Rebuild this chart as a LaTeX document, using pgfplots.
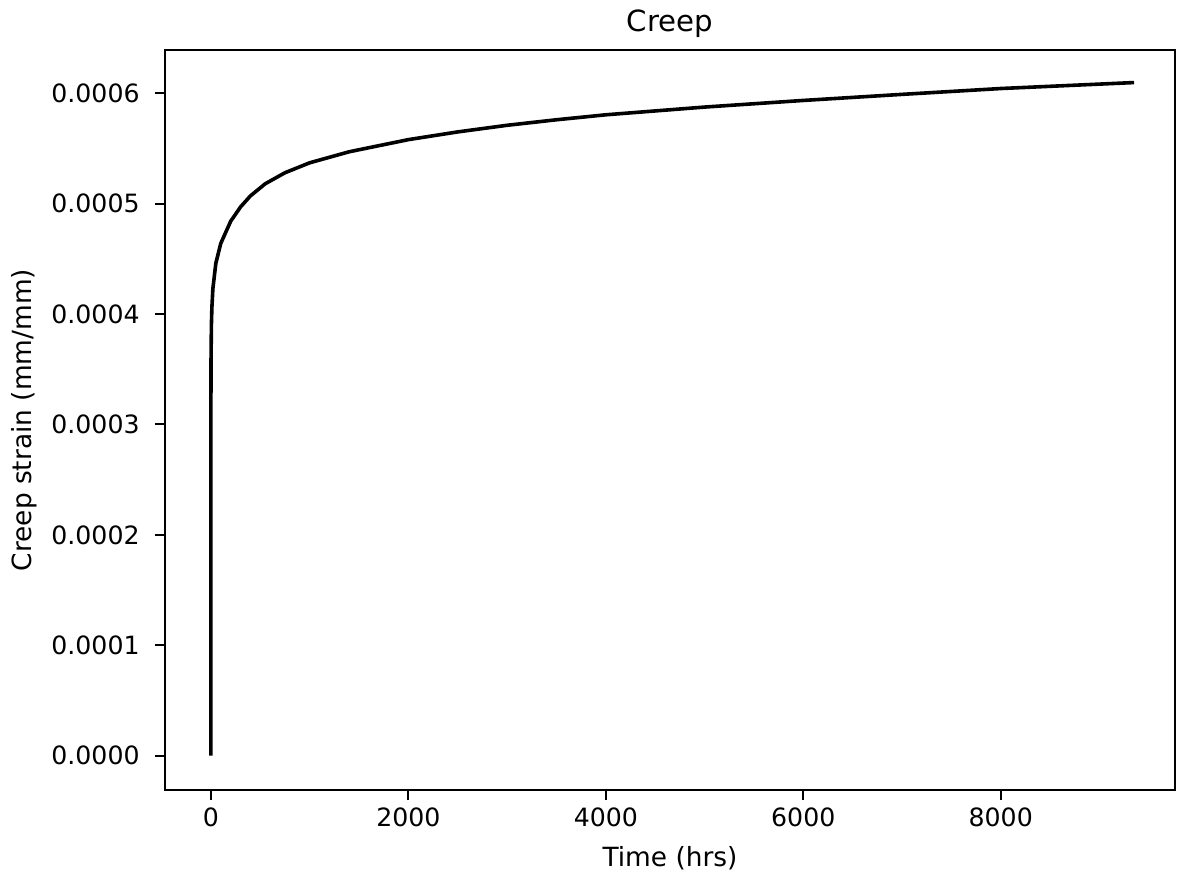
\documentclass[border=0pt]{standalone}
\usepackage{pgfplots}
\pgfplotsset{compat=1.18}
\usepackage{fontspec}
\setmainfont{DejaVu Sans}
\pgfplotstableread{
t y
0 0
0.01 0.000270
0.1 0.000310
1 0.000356
5 0.000390
10 0.000406
20 0.000423
50 0.000446
100 0.000464
200 0.000484
300 0.000497
400 0.000507
550 0.000518
750 0.000528
1000 0.000537
1400 0.000547
2000 0.000558
2500 0.000565
3000 0.000571
3500 0.000576
4000 0.0005805
5000 0.0005875
6000 0.0005935
7000 0.000599
8000 0.0006043
9350 0.0006097
}\creep
\begin{document}
\begin{tikzpicture}
\begin{axis}[
  name=ax,
  width=505pt, height=370pt, scale only axis,
  xmin=-465, xmax=9765,
  ymin=-0.0000311, ymax=0.0006392,
  xtick={0,2000,4000,6000,8000},
  xticklabels={0,2000,4000,6000,8000},
  ytick={0,0.0001,0.0002,0.0003,0.0004,0.0005,0.0006},
  yticklabels={0.0000,0.0001,0.0002,0.0003,0.0004,0.0005,0.0006},
  scaled ticks=false,
  /pgf/number format/assume math mode=true,
  tick align=outside,
  major tick length=5pt,
  xtick pos=bottom, ytick pos=left,
  tick style={black, line width=1pt},
  axis line style={line width=1pt},
  ticklabel style={font=\fontsize{12.6}{14}\selectfont},
  xticklabel style={anchor=base, inner sep=0pt, yshift=-13.5pt},
  yticklabel style={anchor=east, inner sep=0pt, xshift=-7.5pt},
  every axis title shift=0pt,
  title={Creep},
  title style={at={(axis description cs:0.5,1)}, anchor=base, yshift=9pt, inner sep=0pt, font=\fontsize{14.6}{17}\selectfont},
  xlabel={Time (hrs)},
  xlabel style={at={(axis description cs:0.5,-0.10405)}, anchor=base, inner sep=0pt, font=\fontsize{13.2}{15}\selectfont},
  ylabel={Creep strain (mm/mm)},
  ylabel style={at={(axis description cs:-0.1317,0.5)}, anchor=base, inner sep=0pt, font=\fontsize{13.2}{15}\selectfont},
]
\addplot[black, line width=1.8pt, line join=round] table[x=t, y=y] {\creep};
\end{axis}
\pgfresetboundingbox
\path[use as bounding box] ([xshift=-82.5pt,yshift=-43.5pt]ax.south west) rectangle ([xshift=1pt,yshift=25pt]ax.north east);
\end{tikzpicture}
\end{document}
